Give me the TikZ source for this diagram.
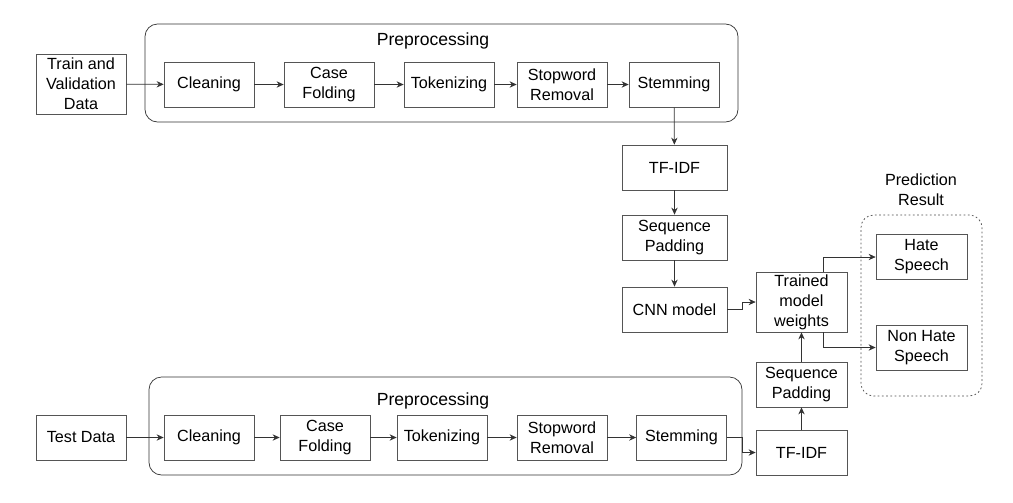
\documentclass[tikz,border=0pt]{standalone}
\usepackage{fontspec}
\setmainfont{Liberation Sans}
\usetikzlibrary{arrows.meta, positioning}
\definecolor{lineGray}{HTML}{333333}
\definecolor{boxGray}{HTML}{555555}

\begin{document}
\begin{tikzpicture}[
    proc/.style={rectangle, draw=boxGray, minimum width=1.8cm, minimum height=0.9cm,
                 font=\fontsize{9.2}{11.3}\selectfont, align=center, inner sep=1pt},
    group/.style={rectangle, rounded corners=0.25cm, draw=lineGray},
    lbl/.style={font=\fontsize{9.2}{11.3}\selectfont, align=center},
    flow/.style={draw=lineGray, -{Stealth[length=4pt, width=3.6pt]}},
  ]
    \useasboundingbox (0, 0) rectangle (20.26, -10.04);

    % training branch
    \node[group, minimum width=11.86cm, minimum height=1.96cm] (pre1) at (8.83, -1.46) {};
    \node[lbl, font=\fontsize{10}{12}\selectfont] (pre1lbl) at (8.66, -0.82) {Preprocessing};
    \node[proc, minimum height=1.2cm] (train) at (1.62, -1.68) {Train and\\Validation\\Data};
    \node[proc] (clean1) at (4.18, -1.69)  {Cleaning};
    \node[proc] (case1) at (6.58, -1.69)   {Case\\Folding};
    \node[proc] (tok1) at (8.98, -1.69)    {Tokenizing};
    \node[proc] (stop1) at (11.24, -1.69)  {Stopword\\Removal};
    \node[proc] (stem1) at (13.48, -1.69)  {Stemming};
    \node[proc, minimum width=2.1cm] (tfidf1) at (13.49, -3.35) {TF-IDF};
    \node[proc, minimum width=2.1cm] (pad1) at (13.49, -4.75)   {Sequence\\Padding};
    \node[proc, minimum width=2.1cm] (cnn) at (13.49, -6.19)    {CNN model};

    % model and result
    \node[proc, minimum width=1.82cm, minimum height=1.2cm] (trained) at (16.03, -6.04) {Trained\\model\\weights};
    \node[group, draw=black!70, dash pattern=on 1pt off 1.4pt, minimum width=2.42cm, minimum height=3.62cm] (result) at (18.43, -6.11) {};
    \node[lbl] (resultlbl) at (18.42, -3.79) {Prediction\\Result};
    \node[proc, minimum width=1.82cm] (hate) at (18.43, -5.14)    {Hate\\Speech};
    \node[proc, minimum width=1.82cm] (nonhate) at (18.43, -6.95) {Non Hate\\Speech};

    % test branch
    \node[group, minimum width=11.86cm, minimum height=1.96cm] (pre2) at (8.91, -8.52) {};
    \node[lbl, font=\fontsize{10}{12}\selectfont] (pre2lbl) at (8.66, -8.02) {Preprocessing};
    \node[proc] (test) at (1.62, -8.75)    {Test Data};
    \node[proc] (clean2) at (4.18, -8.75)  {Cleaning};
    \node[proc] (case2) at (6.50, -8.75)   {Case\\Folding};
    \node[proc] (tok2) at (8.84, -8.75)    {Tokenizing};
    \node[proc] (stop2) at (11.24, -8.75)  {Stopword\\Removal};
    \node[proc] (stem2) at (13.63, -8.75)  {Stemming};
    \node[proc, minimum width=1.82cm] (tfidf2) at (16.03, -9.05) {TF-IDF};
    \node[proc, minimum width=1.82cm] (pad2) at (16.03, -7.69)   {Sequence\\Padding};

    % connectors
    \draw[flow] (train) -- (clean1);
    \draw[flow] (clean1) -- (case1);
    \draw[flow] (case1) -- (tok1);
    \draw[flow] (tok1) -- (stop1);
    \draw[flow] (stop1) -- (stem1);
    \draw[flow] (stem1) -- (tfidf1);
    \draw[flow] (tfidf1) -- (pad1);
    \draw[flow] (pad1) -- (cnn);
    \draw[flow] (cnn.east) -- ++(0.3, 0) |- (trained.west);
    \draw[flow] ([xshift=0.43cm]trained.north) |- (hate.west);
    \draw[flow] ([xshift=0.43cm]trained.south) |- (nonhate.west);

    \draw[flow] (test) -- (clean2);
    \draw[flow] (clean2) -- (case2);
    \draw[flow] (case2) -- (tok2);
    \draw[flow] (tok2) -- (stop2);
    \draw[flow] (stop2) -- (stem2);
    \draw[flow] (stem2.east) -- ++(0.3, 0) |- (tfidf2.west);
    \draw[flow] (tfidf2) -- (pad2);
    \draw[flow] (pad2) -- (trained);
  \end{tikzpicture}
\end{document}
